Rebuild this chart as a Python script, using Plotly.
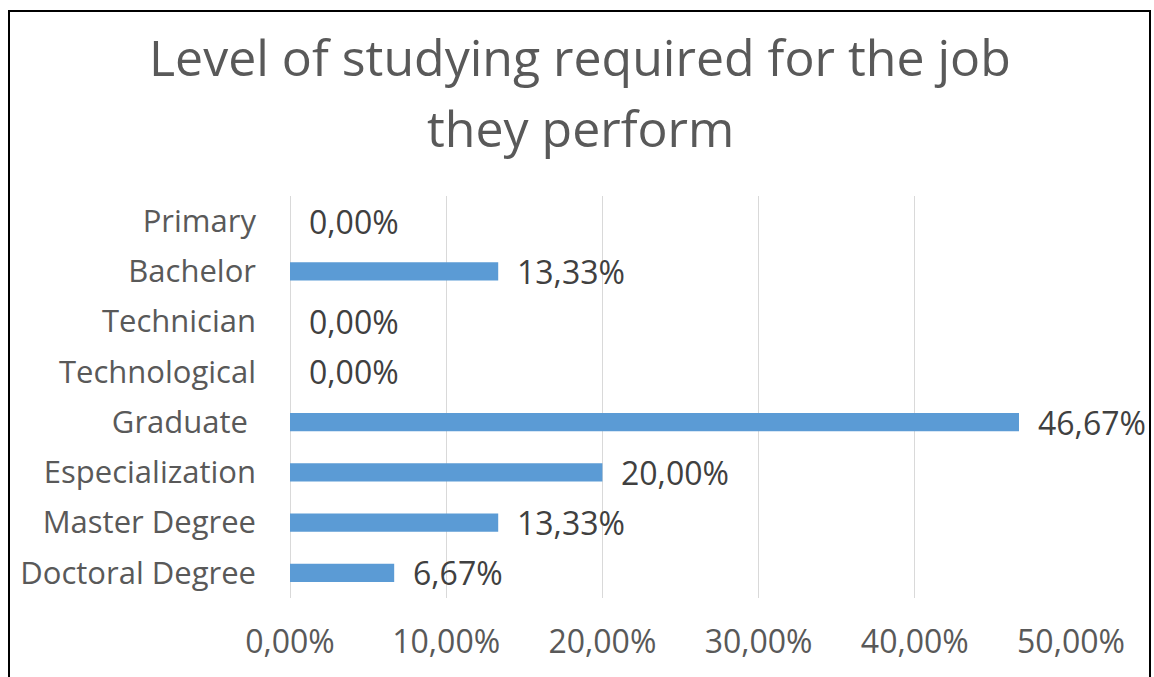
import plotly.graph_objects as go

categories = ["Primary", "Bachelor", "Technician", "Technological", "Graduate\u00a0",
              "Especialization", "Master Degree", "Doctoral Degree"]
values = [0.0, 13.33, 0.0, 0.0, 46.67, 20.0, 13.33, 6.67]
tick_vals = [0, 10, 20, 30, 40, 50]
tick_text = ["0,00%", "10,00%", "20,00%", "30,00%", "40,00%", "50,00%"]
title_lines = ["Level of studying required for the job", "they perform"]

W, H = 1154, 677
L, R, T, B = 290, 1154 - 1071, 196, 677 - 598
pw, ph = W - L - R, H - T - B

grey = "#595959"
font_family = "Open Sans, Noto Sans, sans-serif"

fig = go.Figure()
fig.add_trace(go.Bar(
    y=categories, x=values, orientation="h",
    marker=dict(color="#5B9BD5", line=dict(width=0)),
    width=0.36, hoverinfo="skip",
))

for c, v in zip(categories, values):
    fig.add_annotation(
        x=v, y=c, xref="x", yref="y", text=f"{v:.2f}%".replace(".", ","),
        showarrow=False, xanchor="left", xshift=17,
        font=dict(size=32, color="#404040", family=font_family),
    )

def px(xp):
    return (xp - L) / pw

def py(yp):
    return (H - B - yp) / ph

# title (two lines, Excel-like spacing)
for line, yc in zip(title_lines, [57, 128]):
    fig.add_annotation(x=px(580), y=py(yc), xref="paper", yref="paper", text=line,
                       showarrow=False, xanchor="center", yanchor="middle",
                       font=dict(size=50, color=grey, family=font_family))

# outer border
fig.add_shape(type="rect", xref="paper", yref="paper",
              x0=px(9), x1=px(1150), y0=py(690), y1=py(11),
              line=dict(color="black", width=2), fillcolor="rgba(0,0,0,0)")

fig.update_layout(
    width=W, height=H,
    margin=dict(l=L, r=R, t=T, b=B, autoexpand=False),
    paper_bgcolor="white", plot_bgcolor="white",
    showlegend=False,
    xaxis=dict(range=[0, 50], tickvals=tick_vals, ticktext=tick_text,
               showgrid=True, gridcolor="#D9D9D9", gridwidth=1,
               zeroline=True, zerolinecolor="#D9D9D9", zerolinewidth=1,
               showline=False, ticks="", ticklabelstandoff=22,
               tickfont=dict(size=32, color=grey, family=font_family), fixedrange=True),
    yaxis=dict(autorange="reversed", showgrid=False, showline=False, ticks="",
               ticklabelstandoff=33,
               tickfont=dict(size=31, color=grey, family=font_family), fixedrange=True),
)

fig.write_html("out.html", config={"displayModeBar": False},
               post_script="document.body.style.margin='0';")
